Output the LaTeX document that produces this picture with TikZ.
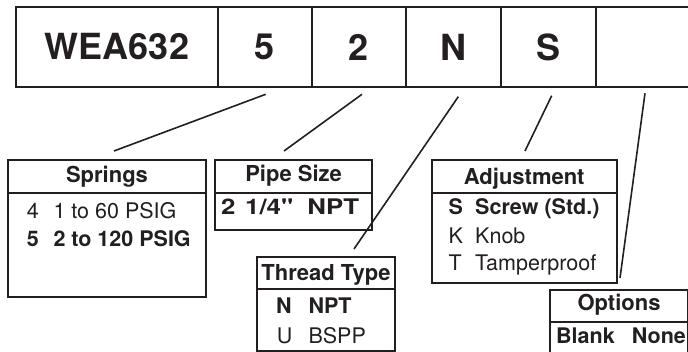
\documentclass[tikz,border=0pt]{standalone}
\usepackage{fontspec}
\setmainfont{TeX Gyre Heros}
\setmonofont{TeX Gyre Heros}
\newfontfamily\widefont{TeX Gyre Heros}[FakeStretch=1.2]
\definecolor{ink}{HTML}{231F20}
\begin{document}
\begin{tikzpicture}[x=1pt,y=-1pt,
  frame/.style={draw=ink, line width=2pt, rectangle, inner sep=0pt, outer sep=0pt},
  conn/.style={draw=ink, line width=1.6pt},
  big/.style={font=\fontsize{36}{36}\selectfont\bfseries, text=ink},
  hdr/.style={font=\fontsize{22}{22}\selectfont\bfseries, anchor=base, inner sep=0pt, text=ink},
  item/.style={font=\fontsize{21.5}{21.5}\selectfont, anchor=base west, inner sep=0pt, text=ink},
  itemb/.style={font=\fontsize{21.5}{21.5}\selectfont\bfseries, anchor=base west, inner sep=0pt, text=ink},
  itemw/.style={font=\widefont\fontsize{21.5}{21.5}\selectfont\bfseries, anchor=base west, inner sep=0pt, text=ink}]
\clip (0,0) rectangle (688,352);
\useasboundingbox (0,0) rectangle (688,352);
% top row
\node[frame, big, minimum width=202pt, minimum height=80pt] (cM) at (117,47) {WEA632};
\node[frame, big, minimum width=94pt, minimum height=80pt] (c5) at (265,47) {5};
\node[frame, big, minimum width=94pt, minimum height=80pt] (c2) at (359,47) {2};
\node[frame, big, minimum width=95pt, minimum height=80pt] (cN) at (453.5,47) {N};
\node[frame, big, minimum width=94.5pt, minimum height=80pt] (cS) at (548.3,47) {S};
\node[frame, minimum width=94pt, minimum height=80pt] (cO) at (642.7,47) {};
% boxes
\node[frame, minimum width=198pt, minimum height=137pt] (spr) at (107,228.5) {};
\draw[frame] ([yshift=-33pt]spr.north west) -- ([yshift=-33pt]spr.north east);
\node[frame, minimum width=157.3pt, minimum height=70pt] (pip) at (293.6,195) {};
\draw[frame] ([yshift=-32.7pt]pip.north west) -- ([yshift=-32.7pt]pip.north east);
\node[frame, minimum width=138pt, minimum height=94pt] (thr) at (326,304) {};
\draw[frame] ([yshift=-32.3pt]thr.north west) -- ([yshift=-32.3pt]thr.north east);
\node[frame, minimum width=185pt, minimum height=123.3pt] (adj) at (524.2,221.65) {};
\draw[frame] ([yshift=-32.7pt]adj.north west) -- ([yshift=-32.7pt]adj.north east);
\node[frame, minimum width=137.7pt, minimum height=70pt] (opt) at (618.85,325) {};
\draw[frame] ([yshift=-31.7pt]opt.north west) -- ([yshift=-31.7pt]opt.north east);
% texts
\node[hdr] (sprh) at (107,183) {Springs};
\node[item] (s4) at (26.7,218.3) {4};
\node[item] (s4t) at (53.3,218.3) {1 to 60 PSIG};
\node[itemb] (s5) at (26.7,246.7) {5};
\node[itemb] (s5t) at (53.3,246.7) {2 to 120 PSIG};
\node[hdr] (piph) at (293.6,182) {Pipe Size};
\node[itemw] (p2) at (221,215) {2};
\node[itemw] (p2t) at (245,215) {1/4{\ttfamily\bfseries\addfontfeature{FakeStretch=1.2}"}\hspace{7pt} NPT};
\node[hdr] (thrh) at (326,280.7) {Thread Type};
\node[itemb] (tN) at (276,313.3) {N};
\node[itemb] (tNt) at (308.3,313.3) {NPT};
\node[item] (tU) at (276.7,343.3) {U};
\node[item] (tUt) at (308.3,343.3) {BSPP};
\node[hdr] (adjh) at (524.2,184.3) {Adjustment};
\node[itemb] (aS) at (448.3,215) {S};
\node[itemb] (aSt) at (475,215) {Screw (Std.)};
\node[item] (aK) at (448.3,243.3) {K};
\node[item] (aKt) at (475,243.3) {Knob};
\node[item] (aT) at (448.3,270.7) {T};
\node[item] (aTt) at (475,270.7) {Tamperproof};
\node[hdr] (opth) at (619,310.7) {Options};
\node[itemb] (oB) at (556,344) {Blank};
\node[itemb] (oBt) at (631.7,344) {None};
% connectors
\coordinate (k5a) at (265.7,94.3); \coordinate (k5b) at (114,151);
\coordinate (k2a) at (362,94.3);   \coordinate (k2b) at (284,151);
\coordinate (kNa) at (458.3,96.7); \coordinate (kNb) at (354,249);
\coordinate (kSa) at (551.7,95.7); \coordinate (kSb) at (525,151);
\coordinate (kOa) at (645,93.3);   \coordinate (kOb) at (620,278);
\draw[conn] (k5a) -- (k5b);
\draw[conn] (k2a) -- (k2b);
\draw[conn] (kNa) -- (kNb);
\draw[conn] (kSa) -- (kSb);
\draw[conn] (kOa) -- (kOb);
\end{tikzpicture}
\end{document}
